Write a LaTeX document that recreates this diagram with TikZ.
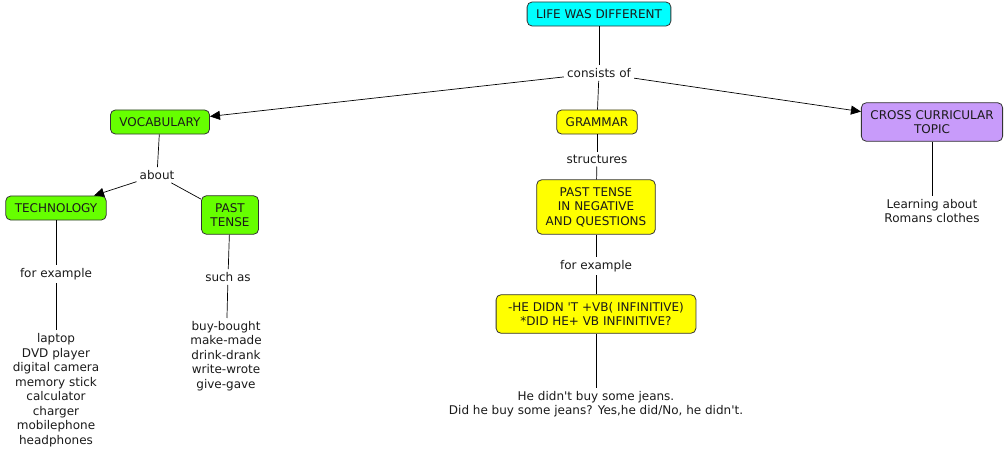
\documentclass[tikz,border=0pt]{standalone}
\usepackage{fontspec}
\setmainfont{DejaVu Sans}
\usetikzlibrary{arrows.meta}
\definecolor{cyanbox}{HTML}{00FFFF}
\definecolor{greenbox}{HTML}{66FF00}
\definecolor{yellowbox}{HTML}{FFFF00}
\definecolor{purplebox}{HTML}{C89BFA}
\definecolor{edgegray}{HTML}{333333}
\definecolor{txt}{HTML}{1A1A1A}
\newcommand{\apos}{\textquotesingle}
\tikzset{
  concept/.style={draw=edgegray, line width=0.8pt, rounded corners=5pt, align=center,
    inner xsep=9pt, inner ysep=7.5pt, text=txt, font=\fontsize{12}{14.5}\selectfont},
  lbl/.style={align=center, inner sep=3pt, text=txt, font=\fontsize{12}{14.5}\selectfont},
  link/.style={draw=black, line width=0.7pt},
  arr/.style={link, -{Triangle[length=10pt,width=9pt]}},
}
\begin{document}
\begin{tikzpicture}[x=1pt,y=-1pt]
\useasboundingbox (0,0) rectangle (1006,458);
% concepts
\node[concept, fill=cyanbox] (life) at (599,14) {LIFE WAS DIFFERENT};
\node[concept, fill=greenbox] (vocab) at (160,122) {VOCABULARY};
\node[concept, fill=yellowbox] (gram) at (597,122) {GRAMMAR};
\node[concept, fill=purplebox] (cross) at (932,122) {CROSS CURRICULAR\\TOPIC};
\node[concept, fill=greenbox] (tech) at (56,208) {TECHNOLOGY};
\node[concept, fill=greenbox] (past) at (230,215) {PAST\\TENSE};
\node[concept, fill=yellowbox] (neg) at (596,207) {PAST TENSE\\IN NEGATIVE\\AND QUESTIONS};
\node[concept, fill=yellowbox, inner xsep=12pt] (he) at (596,314) {-HE DIDN \apos T +VB( INFINITIVE)\\*DID HE+ VB INFINITIVE?};
% labels and leaf texts
\node[lbl] (cons) at (599,73) {consists of};
\node[lbl] (about) at (157,175) {about};
\node[lbl] (struct) at (597,159) {structures};
\node[lbl] (forex1) at (56,274) {for example};
\node[lbl] (suchas) at (228,277) {such as};
\node[lbl] (forex2) at (596,266) {for example};
\node[lbl] (techlist) at (56,390) {laptop\\DVD player\\digital camera\\memory stick\\calculator\\charger\\mobilephone\\headphones};
\node[lbl] (verbs) at (226,356) {buy-bought\\make-made\\drink-drank\\write-wrote\\give-gave};
\node[lbl] (sent) at (596,404) {He didn\apos t buy some jeans.\\Did he buy some jeans? Yes,he did/No, he didn\apos t.};
\node[lbl] (learn) at (932,211) {Learning about\\Romans clothes};
% connectors
\draw[link] (life) -- (cons);
\draw[arr] (cons) -- (vocab);
\draw[link] (cons) -- (gram);
\draw[arr] (cons) -- (cross);
\draw[link] (vocab) -- (about);
\draw[arr] (about) -- (tech);
\draw[link] (about) -- (past);
\draw[link] (tech) -- (forex1);
\draw[link] (forex1) -- (techlist);
\draw[link] (past) -- (suchas);
\draw[link] (suchas) -- (verbs);
\draw[link] (gram) -- (struct);
\draw[link] (struct) -- (neg);
\draw[link] (neg) -- (forex2);
\draw[link] (forex2) -- (he);
\draw[link] (he) -- (sent);
\draw[link] (cross) -- (learn);
\end{tikzpicture}
\end{document}
